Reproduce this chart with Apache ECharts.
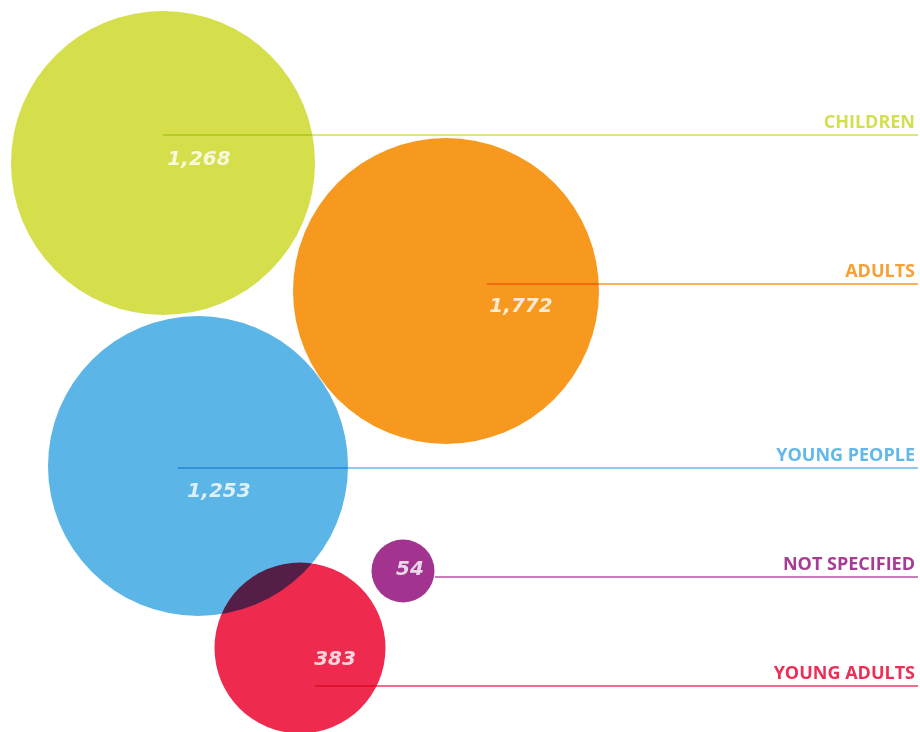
<!DOCTYPE html>
<html>
<head>
<meta charset="utf-8">
<script src="https://cdn.jsdelivr.net/npm/echarts@6/dist/echarts.min.js"></script>
<style>html,body{margin:0;padding:0;background:#fff}#c{width:920px;height:732px}</style>
</head>
<body>
<div id="c"></div>
<script>
// ---- data ----
const categories = ['CHILDREN', 'ADULTS', 'YOUNG PEOPLE', 'NOT SPECIFIED', 'YOUNG ADULTS'];
const values = [1268, 1772, 1253, 54, 383];
// bubble layout in a unitless 920 x 732 layout space
const bubbleX = [163, 446, 198, 403, 300];
const bubbleY = [163, 291, 466, 571, 648];
const bubbleDiameter = [304, 306, 300, 63, 171];
// leader lines
const lineStartX = [163, 487, 178, 435, 315];
const lineY = [135, 284, 468, 577, 686];
const lineEndX = 918;

// ---- styles ----
const bubbleColors = ['#d4df4b', '#f7991f', '#5bb5e6', '#a2338f', '#ef2a4f'];
const lineColors = ['#dde87a', '#f9b25f', '#8ccbf0', '#c77fbb', '#f36b86'];
const textColors = ['#d3df4f', '#f7a033', '#62b8e8', '#a83c95', '#ee2e55'];
const valueLabelOffsets = [[36, -3], [75, 16], [21, 26], [7, -1], [35, 12]];

const chart = echarts.init(document.getElementById('c'));
const fmt = v => v.toLocaleString('en-US');

const scatterData = categories.map((c, i) => ({
  name: c,
  value: [bubbleX[i], bubbleY[i], values[i], bubbleDiameter[i]],
  itemStyle: { color: bubbleColors[i] },
  label: { offset: valueLabelOffsets[i] }
}));

const lineData = categories.map((c, i) => ({
  name: c,
  coords: [[lineStartX[i], lineY[i]], [lineEndX, lineY[i]]],
  lineStyle: { color: lineColors[i] },
  label: { color: textColors[i] }
}));

chart.setOption({
  backgroundColor: '#ffffff',
  animation: false,
  grid: { left: 0, right: 0, top: 0, bottom: 0 },
  xAxis: { type: 'value', min: 0, max: 920, show: false },
  yAxis: { type: 'value', min: 0, max: 732, inverse: true, show: false },
  series: [
    {
      type: 'scatter',
      blendMode: 'multiply',
      data: scatterData,
      symbolSize: v => v[3],
      itemStyle: { opacity: 1 },
      emphasis: { disabled: true },
      z: 1
    },
    {
      type: 'lines',
      coordinateSystem: 'cartesian2d',
      blendMode: 'multiply',
      data: lineData,
      lineStyle: { width: 2, opacity: 1, curveness: 0 },
      label: {
        show: true,
        position: 'insideEndTop',
        formatter: p => p.name,
        fontFamily: 'Open Sans',
        fontWeight: 'bold',
        fontSize: 18,
        distance: 3
      },
      emphasis: { disabled: true },
      z: 2
    },
    {
      type: 'scatter',
      data: scatterData.map(d => ({ value: d.value, label: d.label })),
      symbolSize: 0,
      silent: true,
      label: {
        show: true,
        position: 'inside',
        formatter: p => fmt(p.value[2]),
        color: '#fff',
        fontFamily: 'DejaVu Sans',
        fontWeight: 'bold',
        fontStyle: 'italic',
        fontSize: 20
      },
      emphasis: { disabled: true },
      z: 3
    }
  ]
});
</script>
</body>
</html>
